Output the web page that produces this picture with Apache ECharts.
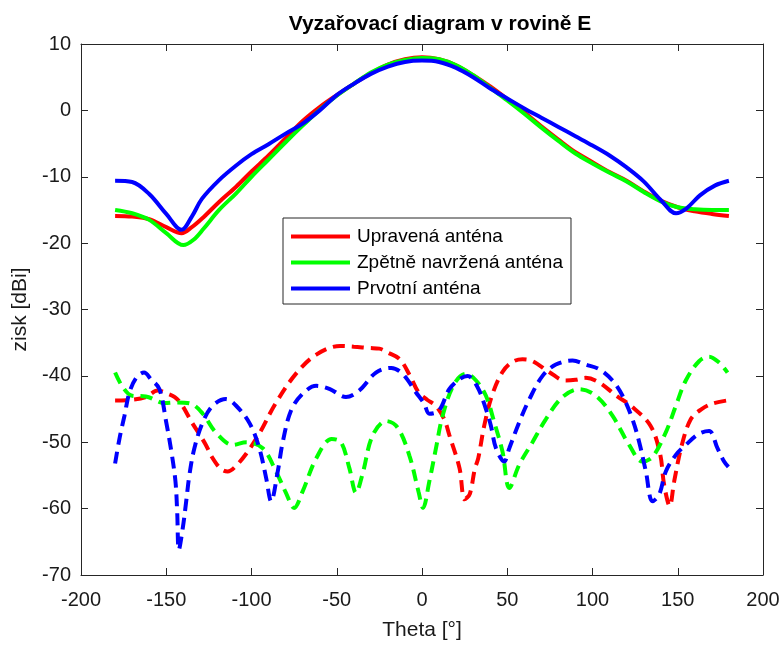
<!DOCTYPE html>
<html>
<head>
<meta charset="utf-8">
<script src="https://cdn.jsdelivr.net/npm/echarts@6/dist/echarts.min.js"></script>
<style>html,body{margin:0;padding:0;background:#fff;}#c{width:784px;height:646px;}</style>
</head>
<body>
<div id="c"></div>
<script>
// Co-polar (solid) patterns: [theta, gain dBi]
var redCo = [[-180,-15.9],[-170,-16.0],[-160,-16.4],[-150,-17.6],[-141,-18.5],[-135,-17.6],[-129,-16.3],[-119,-13.8],[-109,-11.5],[-100,-9.2],[-90,-6.8],[-80,-4.2],[-70,-1.6],[-60,0.5],[-50,2.3],[-40,4.0],[-30,5.6],[-20,6.9],[-10,7.7],[0,8.0],[10,7.7],[20,6.8],[30,5.3],[40,3.6],[50,1.7],[60,-0.3],[70,-2.4],[80,-4.4],[90,-6.3],[100,-7.8],[110,-9.3],[120,-10.6],[130,-12.2],[140,-13.6],[150,-14.6],[160,-15.2],[170,-15.6],[180,-15.9]];
var greenCo = [[-180,-15.0],[-170,-15.5],[-160,-16.5],[-150,-18.5],[-140,-20.3],[-134,-19.5],[-128,-17.8],[-119,-15.0],[-109,-12.5],[-100,-10.0],[-90,-7.4],[-80,-4.8],[-70,-2.3],[-60,0.1],[-50,2.2],[-40,4.0],[-30,5.7],[-20,6.9],[-10,7.6],[0,7.9],[10,7.7],[20,6.8],[30,5.3],[40,3.4],[50,1.5],[60,-0.5],[70,-2.6],[80,-4.6],[90,-6.5],[100,-8.0],[110,-9.4],[120,-10.7],[130,-12.3],[140,-13.7],[150,-14.6],[160,-14.9],[170,-15.0],[180,-15.0]];
var blueCo = [[-180,-10.6],[-170,-10.8],[-160,-12.6],[-150,-15.6],[-141,-18.0],[-135,-16.0],[-129,-13.3],[-119,-10.5],[-109,-8.3],[-100,-6.6],[-90,-5.1],[-80,-3.5],[-70,-2.0],[-60,0.0],[-50,2.3],[-40,4.0],[-30,5.5],[-20,6.6],[-10,7.3],[0,7.5],[10,7.3],[20,6.4],[30,5.0],[40,3.3],[50,1.8],[60,0.3],[70,-1.1],[80,-2.5],[90,-3.9],[100,-5.3],[110,-6.8],[120,-8.6],[130,-10.7],[140,-13.5],[149,-15.5],[155,-14.8],[163,-12.8],[172,-11.3],[180,-10.6]];

// Cross-polar (dashed) patterns
var redX = [[-180,-43.7],[-170,-43.6],[-162,-43.2],[-155,-42.2],[-150,-42.6],[-145,-43.2],[-141,-44.3],[-135,-47.0],[-131,-48.6],[-127,-50.3],[-123,-52.3],[-118,-54.0],[-114,-54.4],[-110,-53.8],[-103,-51.7],[-95,-48.5],[-86,-44.2],[-74,-39.7],[-62,-36.8],[-48,-35.5],[-40,-35.6],[-31,-35.8],[-25,-35.9],[-20,-36.5],[-13,-37.5],[-7,-40.0],[-2,-42.5],[3,-43.6],[8,-44.5],[13,-46.5],[16,-48.9],[22,-53.9],[25,-58.6],[28,-57.8],[31,-54.0],[33,-52.4],[36.5,-47.5],[41,-43.0],[47,-39.5],[53,-37.9],[59,-37.5],[65,-37.8],[75,-39.5],[84,-40.7],[90,-40.6],[96,-40.3],[104,-41.0],[114,-43.0],[123,-44.6],[134,-47.5],[139.6,-51.7],[142,-56.4],[145.3,-59.6],[147.9,-55.9],[152.4,-50.4],[157.7,-46.5],[164,-45.0],[170,-44.2],[179,-43.7]];
var greenX = [[-180,-39.5],[-175.5,-41.7],[-170,-43.0],[-162,-43.1],[-151,-44.1],[-144,-44.0],[-135.5,-44.2],[-128.6,-45.7],[-121,-48.5],[-111,-50.4],[-103,-50.0],[-93.4,-50.9],[-85.6,-54.4],[-80,-57.5],[-75,-59.9],[-70,-57.4],[-62,-52.4],[-53,-49.5],[-47.5,-50.0],[-42.6,-53.9],[-38.7,-57.6],[-34.8,-54.7],[-29,-49.0],[-21,-46.8],[-14.3,-47.8],[-7.4,-52.0],[-2,-57.5],[0.6,-59.9],[4.3,-55.9],[8.2,-50.9],[12.1,-46.0],[18.9,-41.2],[25.8,-39.7],[31.7,-40.7],[37.5,-43.0],[42.4,-47.0],[47.2,-51.4],[51.2,-56.9],[57,-53.4],[64.8,-50.0],[72.7,-46.5],[82.4,-43.2],[92.2,-42.0],[102,-43.0],[111.7,-46.0],[121.5,-50.4],[129.3,-52.9],[135.2,-52.2],[143,-48.5],[148.9,-44.5],[154.7,-40.7],[162.5,-37.8],[168.4,-37.1],[174.3,-38.0],[179.2,-39.5]];
var blueX = [[-180,-53.2],[-177.4,-49.4],[-174.5,-46.0],[-171.6,-42.5],[-167.6,-40.3],[-163,-39.5],[-159,-40.5],[-154,-42.0],[-150,-47.0],[-147,-51.4],[-144.6,-55.9],[-143.6,-60.4],[-142.6,-66.2],[-140.3,-62.9],[-138.3,-58.9],[-136.4,-54.9],[-133.5,-50.9],[-128.6,-47.0],[-122.8,-44.5],[-115,-43.5],[-109,-44.5],[-101,-47.2],[-95.4,-50.9],[-91.4,-55.4],[-88.5,-58.9],[-84.6,-54.4],[-81.7,-50.0],[-76.8,-45.2],[-70,-42.7],[-62,-41.5],[-54,-42.0],[-44.6,-43.2],[-36.8,-42.2],[-27,-39.5],[-18,-38.8],[-11.4,-39.7],[-3.5,-42.5],[1.3,-44.2],[4.3,-45.7],[10,-45.2],[16,-42.0],[22,-40.5],[26.7,-40.0],[32.6,-41.7],[37.5,-45.0],[40.4,-47.5],[43.4,-50.9],[48.2,-52.9],[51.2,-50.9],[57,-47.0],[63,-43.5],[70.7,-40.0],[78.5,-38.3],[88.3,-37.7],[96,-38.3],[104,-39.0],[111.7,-40.7],[117.6,-43.0],[123.4,-46.5],[127.4,-50.0],[131.3,-54.4],[135.2,-58.9],[139.1,-57.9],[143,-54.4],[148.9,-51.9],[154.7,-50.4],[162.6,-48.7],[168.4,-48.3],[173.3,-50.9],[177.2,-52.9],[179.7,-53.7]];

var names = ['Upravená anténa', 'Zpětně navržená anténa', 'Prvotní anténa'];
var colors = ['#ff0000', '#00ff00', '#0000ff'];
var xTicks = {min: -200, max: 200, interval: 50};
var yTicks = {min: -70, max: 10, interval: 10};
var titleText = 'Vyzařovací diagram v rovině E';
var xName = 'Theta [°]';
var yName = 'zisk [dBi]';

var FONT = '"Liberation Sans", Arial, Helvetica, sans-serif';
var axisCol = '#262626';
var chart = echarts.init(document.getElementById('c'));

function mkSeries(name, data, color, dashed) {
  return {
    name: name, type: 'line', data: data, smooth: 0.35, showSymbol: false, symbol: 'none',
    animation: false, clip: true,
    lineStyle: {color: color, width: 4, type: dashed ? [12, 7] : 'solid'},
    itemStyle: {color: color}
  };
}
var coData = [redCo, greenCo, blueCo];
var xData = [redX, greenX, blueX];
var series = [];
for (var i = 0; i < 3; i++) series.push(mkSeries(names[i], coData[i], colors[i], false));
for (var j = 0; j < 3; j++) series.push(mkSeries(names[j], xData[j], colors[j], true));

function axisCommon() {
  return {
    axisLine: {show: true, onZero: false, lineStyle: {color: axisCol, width: 1}},
    axisTick: {show: true, inside: true, length: 7, lineStyle: {color: axisCol}},
    splitLine: {show: false}
  };
}
var xb = Object.assign(axisCommon(), {
  type: 'value', position: 'bottom', min: xTicks.min, max: xTicks.max, interval: xTicks.interval,
  axisLabel: {color: '#1a1a1a', fontSize: 20, fontFamily: FONT, margin: 15},
  name: xName, nameLocation: 'middle', nameGap: 45,
  nameTextStyle: {color: '#1a1a1a', fontSize: 21, fontFamily: FONT}
});
var xt = Object.assign(axisCommon(), {
  type: 'value', position: 'top', min: xTicks.min, max: xTicks.max, interval: xTicks.interval,
  axisLabel: {show: false}
});
var yl = Object.assign(axisCommon(), {
  type: 'value', position: 'left', min: yTicks.min, max: yTicks.max, interval: yTicks.interval,
  axisLabel: {color: '#1a1a1a', fontSize: 20, fontFamily: FONT, margin: 10},
  name: yName, nameLocation: 'middle', nameGap: 45,
  nameTextStyle: {color: '#1a1a1a', fontSize: 21, fontFamily: FONT}
});
var yr = Object.assign(axisCommon(), {
  type: 'value', position: 'right', min: yTicks.min, max: yTicks.max, interval: yTicks.interval,
  axisLabel: {show: false}
});

chart.setOption({
  animation: false,
  backgroundColor: '#fff',
  title: {text: titleText, left: 435, top: 9, textAlign: 'center',
    textStyle: {fontSize: 21, fontWeight: 'bold', color: '#000', fontFamily: FONT}},
  grid: {left: 81, right: 21, top: 44, bottom: 65, containLabel: false},
  legend: {
    data: names, orient: 'vertical', left: 283, top: 218,
    backgroundColor: '#fff', borderColor: '#262626', borderWidth: 1,
    padding: [9, 8, 6, 8], itemGap: 7, itemWidth: 59, itemHeight: 4, icon: 'rect',
    textStyle: {fontSize: 19, color: '#000', fontFamily: FONT, padding: [0, 0, 0, 2]}
  },
  xAxis: [xb, xt],
  yAxis: [yl, yr],
  series: series
});
</script>
</body>
</html>
